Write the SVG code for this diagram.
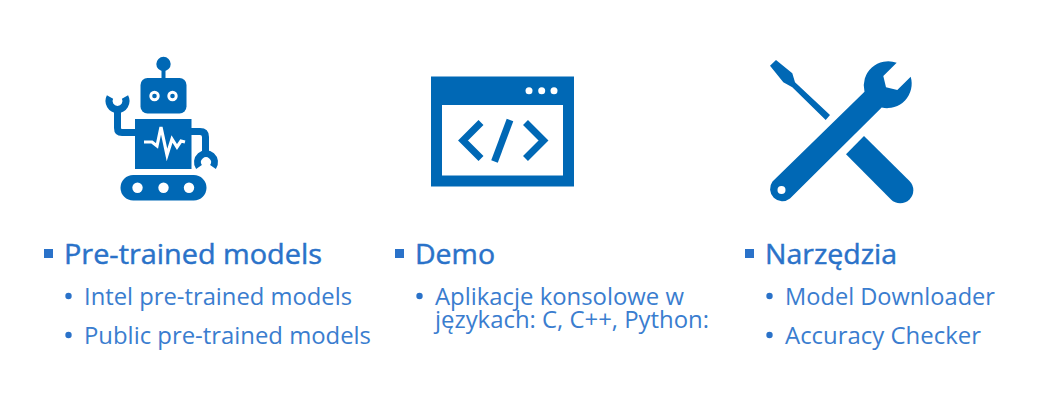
<svg xmlns="http://www.w3.org/2000/svg" width="1060" height="405" viewBox="0 0 1060 405">
<style>
.i{fill:#0068b5}
.w{fill:#fff}
.s{fill:none;stroke:#0068b5}
text{font-family:"Open Sans","Noto Sans","Liberation Sans",sans-serif;fill:#2a72c9}
.h{font-size:28px;font-weight:400;stroke:#2a72c9;stroke-width:.45px}
.b{font-size:23px;font-weight:400;fill:#3a7dcf}
.d{fill:#2a72c9}
</style>
<rect width="1060" height="405" fill="#fff"/>
<g id="robot">
<circle class="i" cx="163.500" cy="64" r="7.200"/>
<rect class="i" x="161.500" y="66" width="4" height="14"/>
<rect class="i" x="140.500" y="78" width="46" height="35.500" rx="7"/>
<circle class="w" cx="154.500" cy="96" r="5.200"/><circle class="i" cx="154.500" cy="96" r="2.300"/>
<circle class="w" cx="172.500" cy="96" r="5.200"/><circle class="i" cx="172.500" cy="96" r="2.300"/>
<rect class="i" x="135" y="119" width="56.500" height="50"/>
<path d="M144 142H152L157 146 161 127 167 155 172 139 177 147 181 141 185 142" fill="none" stroke="#fff" stroke-width="3.200"/>
<path class="s" stroke-width="7" d="M136 132.500H122Q117.500 132.500 117.500 128V112"/>
<path class="s" stroke-width="7" d="M190 131.500H200Q205.500 131.500 205.500 137V153"/>
<path class="s" stroke-width="7" d="M110 97A8.500 8.500 0 1 0 125 97"/>
<path class="s" stroke-width="7" d="M199 167A8.500 8.500 0 1 1 213 167"/>
<rect class="i" x="120.500" y="175" width="86" height="25.500" rx="12.750"/>
<circle class="w" cx="137.500" cy="187.700" r="5.200"/><circle class="w" cx="163.500" cy="187.700" r="5.200"/><circle class="w" cx="189" cy="187.700" r="5.200"/>
</g>
<g id="window">
<rect class="i" x="431" y="76.500" width="143" height="110"/>
<rect class="w" x="442" y="105" width="121" height="70.500"/>
<circle class="w" cx="529" cy="90.700" r="3.500"/><circle class="w" cx="541.700" cy="90.700" r="3.500"/><circle class="w" cx="554" cy="90.700" r="3.500"/>
<path class="s" stroke-width="7" d="M481 122.500L463 140.500 481 158.500"/>
<path class="s" stroke-width="7" d="M525.500 122.500L543.500 140.500 525.500 158.500"/>
<path class="s" stroke-width="7" d="M510 120L494.500 161.500"/>
</g>
<g id="tools">
<path class="i" d="M770 65.700L776 60 792.300 73.300 795 82.300 830 115 825.700 120 792.300 87.300 783.300 82.300Z"/>
<path class="i" d="M864 136L909.500 181A13 13 0 0 1 891 199.500L846 154.300Z"/>
<path class="i" d="M864.500 91.700A24.500 24.500 0 0 1 896.700 62.700L883.300 76 886 87.300 897.300 90 910.700 76.700A24.500 24.500 0 0 1 881.700 107.500L790 198.500A12.300 12.300 0 0 1 772.500 181.500Z"/>
<circle class="w" cx="781.500" cy="190" r="4"/>
</g>
<g id="col1">
<rect class="d" x="44" y="249" width="9" height="9"/>
<text class="h" x="64" y="264" textLength="258" lengthAdjust="spacingAndGlyphs">Pre-trained models</text>
<circle class="d" cx="68.500" cy="296" r="3.200"/>
<text class="b" x="84" y="305" textLength="268" lengthAdjust="spacingAndGlyphs">Intel pre-trained models</text>
<circle class="d" cx="68.500" cy="335" r="3.200"/>
<text class="b" x="84" y="344" textLength="287" lengthAdjust="spacingAndGlyphs">Public pre-trained models</text>
</g>
<g id="col2">
<rect class="d" x="395" y="249" width="9" height="9"/>
<text class="h" x="415" y="264" textLength="80" lengthAdjust="spacingAndGlyphs">Demo</text>
<circle class="d" cx="419.500" cy="296" r="3.200"/>
<text class="b" x="435" y="305" textLength="249" lengthAdjust="spacingAndGlyphs">Aplikacje konsolowe w</text>
<text class="b" x="435" y="328" textLength="274" lengthAdjust="spacingAndGlyphs">językach: C, C++, Python:</text>
</g>
<g id="col3">
<rect class="d" x="745" y="249" width="9" height="9"/>
<text class="h" x="765" y="264" textLength="132" lengthAdjust="spacingAndGlyphs">Narzędzia</text>
<circle class="d" cx="769.500" cy="296" r="3.200"/>
<text class="b" x="785" y="305" textLength="210" lengthAdjust="spacingAndGlyphs">Model Downloader</text>
<circle class="d" cx="769.500" cy="335" r="3.200"/>
<text class="b" x="785" y="344" textLength="196" lengthAdjust="spacingAndGlyphs">Accuracy Checker</text>
</g>
</svg>
